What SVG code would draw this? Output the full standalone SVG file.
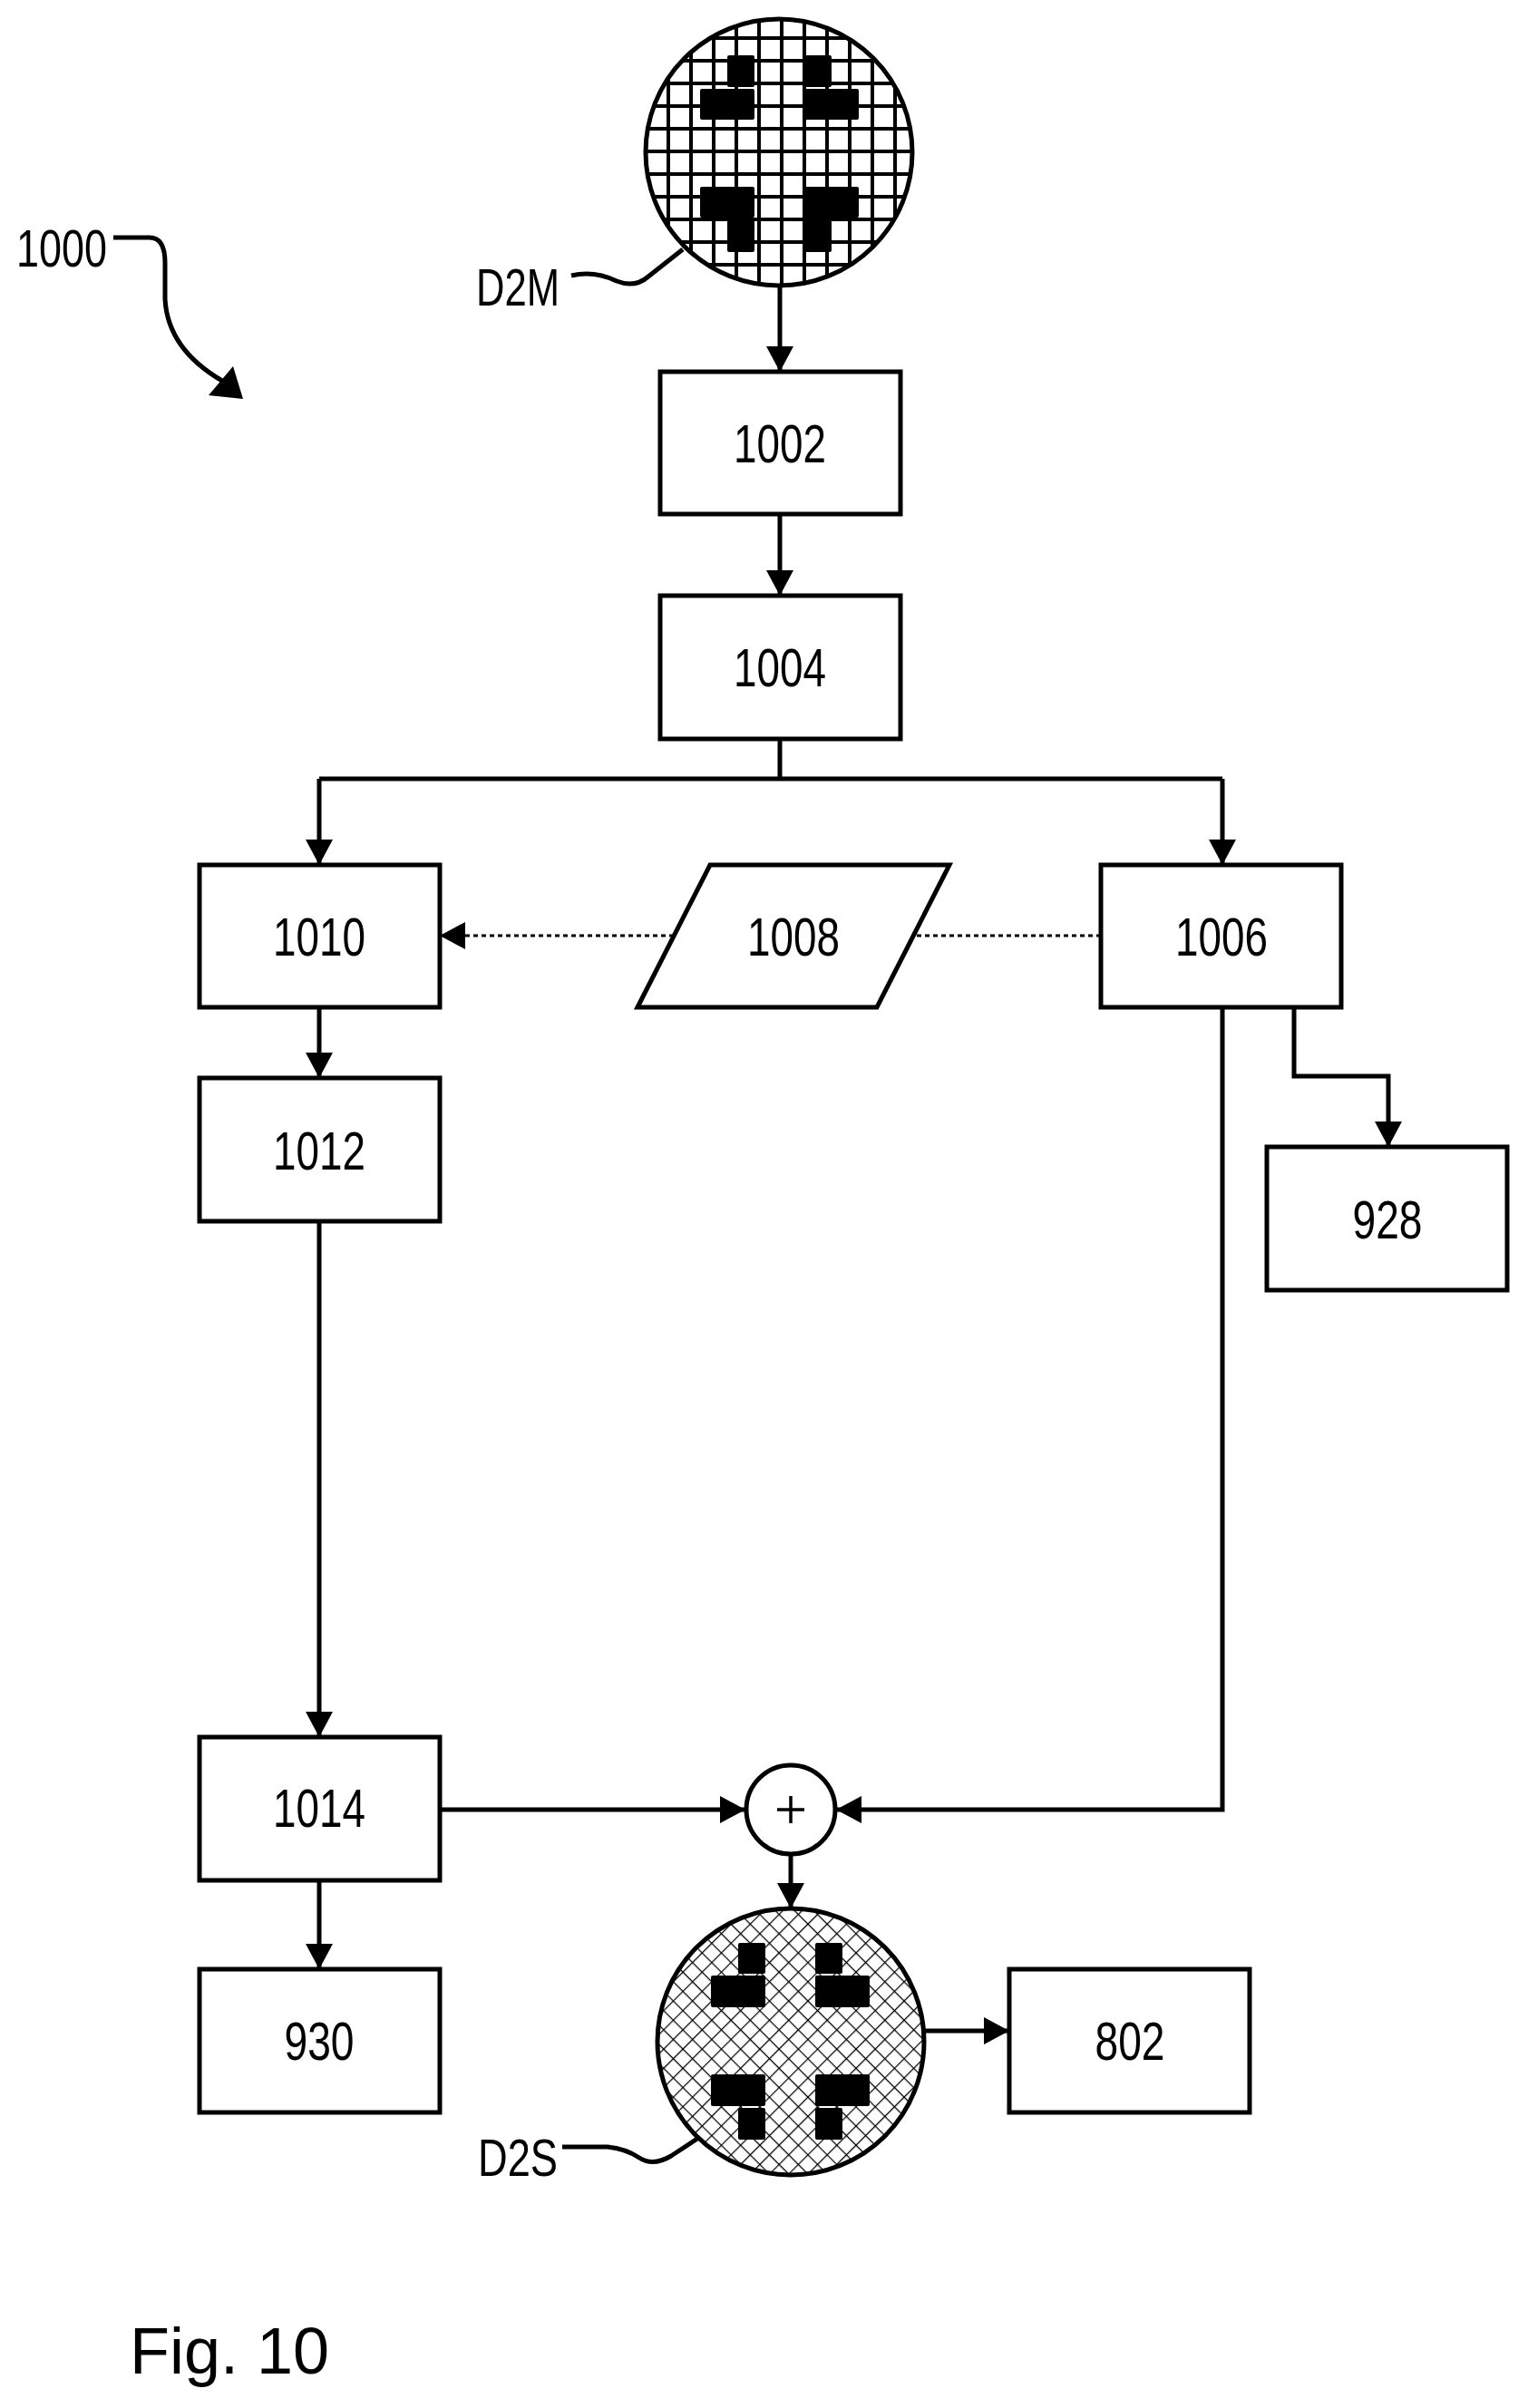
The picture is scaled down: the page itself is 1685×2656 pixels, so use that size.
<svg xmlns="http://www.w3.org/2000/svg" width="1685" height="2656" viewBox="0 0 1685 2656">
<style>
.b{fill:#fff;stroke:#000;stroke-width:5}
.t{font-family:"Liberation Sans",Arial,sans-serif;font-size:60px;text-anchor:middle;fill:#000}
.l{fill:none;stroke:#000;stroke-width:5}
.d{fill:none;stroke:#000;stroke-width:3;stroke-dasharray:5,4}
.k{fill:#000}
</style>
<defs>
<marker id="a" markerUnits="userSpaceOnUse" markerWidth="32" markerHeight="32" refX="28" refY="15" orient="auto"><path d="M0,0 L28,15 L0,30 Z"/></marker>
<clipPath id="c1"><circle cx="859" cy="168" r="147"/></clipPath>
<clipPath id="c2"><circle cx="872" cy="2252" r="147"/></clipPath>
<pattern id="x" width="15" height="15" patternUnits="userSpaceOnUse" patternTransform="rotate(45)"><path d="M0,0H15M0,0V15" stroke="#000" stroke-width="2.5"/></pattern>
</defs>
<rect width="1685" height="2656" fill="#fff"/>
<g id="connectors">
<path class="l" d="M860,316 V410" marker-end="url(#a)"/>
<path class="l" d="M860,567 V657" marker-end="url(#a)"/>
<path class="l" d="M860,815 V859"/>
<path class="l" d="M352,859 H1348"/>
<path class="l" d="M352,859 V954" marker-end="url(#a)"/>
<path class="l" d="M1348,859 V954" marker-end="url(#a)"/>
<path class="d" d="M1214,1032 H1007"/>
<path class="d" d="M743,1032 H485" marker-end="url(#a)"/>
<path class="l" d="M352,1111 V1189" marker-end="url(#a)"/>
<path class="l" d="M1427,1111 V1187 H1531 V1265" marker-end="url(#a)"/>
<path class="l" d="M352,1347 V1916" marker-end="url(#a)"/>
<path class="l" d="M1348,1111 V1996 H922" marker-end="url(#a)"/>
<path class="l" d="M485,1996 H822" marker-end="url(#a)"/>
<path class="l" d="M872,2046 V2105" marker-end="url(#a)"/>
<path class="l" d="M352,2074 V2172" marker-end="url(#a)"/>
<path class="l" d="M1020,2240 H1113" marker-end="url(#a)"/>
<path class="l" d="M125,262 H165 Q182,262 182,290 V330 Q185,385 245,420" />
<path class="k" d="M230,436 L268,440 L257,404 Z"/>
<path class="l" d="M630,304 Q655,298 680,310 Q700,318 715,305 L753,275"/>
<path class="l" d="M620,2368 H670 Q690,2370 705,2380 Q720,2390 740,2378 L775,2355"/>
</g>
<g id="D2M">
<circle cx="859" cy="168" r="147" fill="#fff"/>
<g clip-path="url(#c1)" stroke="#000" stroke-width="4">
<path d="M737,0V340M762,0V340M787,0V340M812,0V340M837,0V340M862,0V340M887,0V340M912,0V340M937,0V340M962,0V340M987,0V340"/>
<path d="M700,42H1020M700,67H1020M700,92H1020M700,117H1020M700,142H1020M700,167H1020M700,192H1020M700,217H1020M700,242H1020M700,267H1020M700,292H1020"/>
</g>
<g class="k">
<rect x="802" y="61" width="30" height="35" rx="2"/><rect x="772" y="98" width="60" height="34" rx="2"/>
<rect x="886" y="61" width="31" height="35" rx="2"/><rect x="886" y="98" width="61" height="34" rx="2"/>
<rect x="772" y="206" width="60" height="34" rx="2"/><rect x="802" y="243" width="30" height="35" rx="2"/>
<rect x="886" y="206" width="61" height="34" rx="2"/><rect x="886" y="243" width="31" height="35" rx="2"/>
</g>
<circle cx="859" cy="168" r="147" fill="none" stroke="#000" stroke-width="5"/>
<text class="t" x="525" y="337" style="text-anchor:start;font-size:57px" textLength="92" lengthAdjust="spacingAndGlyphs">D2M</text>
</g>
<g id="n1000"><text class="t" x="18" y="294" style="text-anchor:start;font-size:57px" textLength="100" lengthAdjust="spacingAndGlyphs">1000</text></g>
<g id="n1002"><rect class="b" x="728" y="410" width="265" height="157"/><text class="t" x="860" y="510" textLength="102" lengthAdjust="spacingAndGlyphs">1002</text></g>
<g id="n1004"><rect class="b" x="728" y="657" width="265" height="158"/><text class="t" x="860" y="757" textLength="102" lengthAdjust="spacingAndGlyphs">1004</text></g>
<g id="n1010"><rect class="b" x="220" y="954" width="265" height="157"/><text class="t" x="352" y="1054" textLength="102" lengthAdjust="spacingAndGlyphs">1010</text></g>
<g id="n1008"><path class="b" d="M703,1111 L783,954 L1047,954 L967,1111 Z"/><text class="t" x="875" y="1054" textLength="102" lengthAdjust="spacingAndGlyphs">1008</text></g>
<g id="n1006"><rect class="b" x="1214" y="954" width="265" height="157"/><text class="t" x="1347" y="1054" textLength="102" lengthAdjust="spacingAndGlyphs">1006</text></g>
<g id="n1012"><rect class="b" x="220" y="1189" width="265" height="158"/><text class="t" x="352" y="1290" textLength="102" lengthAdjust="spacingAndGlyphs">1012</text></g>
<g id="n928"><rect class="b" x="1397" y="1265" width="265" height="158"/><text class="t" x="1530" y="1366" textLength="77" lengthAdjust="spacingAndGlyphs">928</text></g>
<g id="n1014"><rect class="b" x="220" y="1916" width="265" height="158"/><text class="t" x="352" y="2015" textLength="102" lengthAdjust="spacingAndGlyphs">1014</text></g>
<g id="plus"><circle class="b" cx="872" cy="1996" r="49"/><path d="M857,1996H887M872,1981V2011" stroke="#000" stroke-width="3.5"/></g>
<g id="n930"><rect class="b" x="220" y="2172" width="265" height="158"/><text class="t" x="352" y="2272" textLength="77" lengthAdjust="spacingAndGlyphs">930</text></g>
<g id="n802"><rect class="b" x="1113" y="2172" width="265" height="158"/><text class="t" x="1246" y="2272" textLength="77" lengthAdjust="spacingAndGlyphs">802</text></g>
<g id="D2S">
<circle cx="872" cy="2252" r="147" fill="#fff"/>
<rect x="720" y="2100" width="305" height="305" fill="url(#x)" clip-path="url(#c2)"/>
<g class="k">
<rect x="814" y="2143" width="30" height="34" rx="2"/><rect x="784" y="2179" width="60" height="35" rx="2"/>
<rect x="899" y="2143" width="30" height="34" rx="2"/><rect x="899" y="2179" width="60" height="35" rx="2"/>
<rect x="784" y="2288" width="60" height="35" rx="2"/><rect x="814" y="2325" width="30" height="35" rx="2"/>
<rect x="899" y="2288" width="60" height="35" rx="2"/><rect x="899" y="2325" width="30" height="35" rx="2"/>
</g>
<circle cx="872" cy="2252" r="147" fill="none" stroke="#000" stroke-width="5"/>
<text class="t" x="527" y="2400" style="text-anchor:start;font-size:57px" textLength="88" lengthAdjust="spacingAndGlyphs">D2S</text>
</g>
<text x="143" y="2618" style="font-family:'Liberation Sans',Arial,sans-serif;font-size:72px">Fig. 10</text>
</svg>
